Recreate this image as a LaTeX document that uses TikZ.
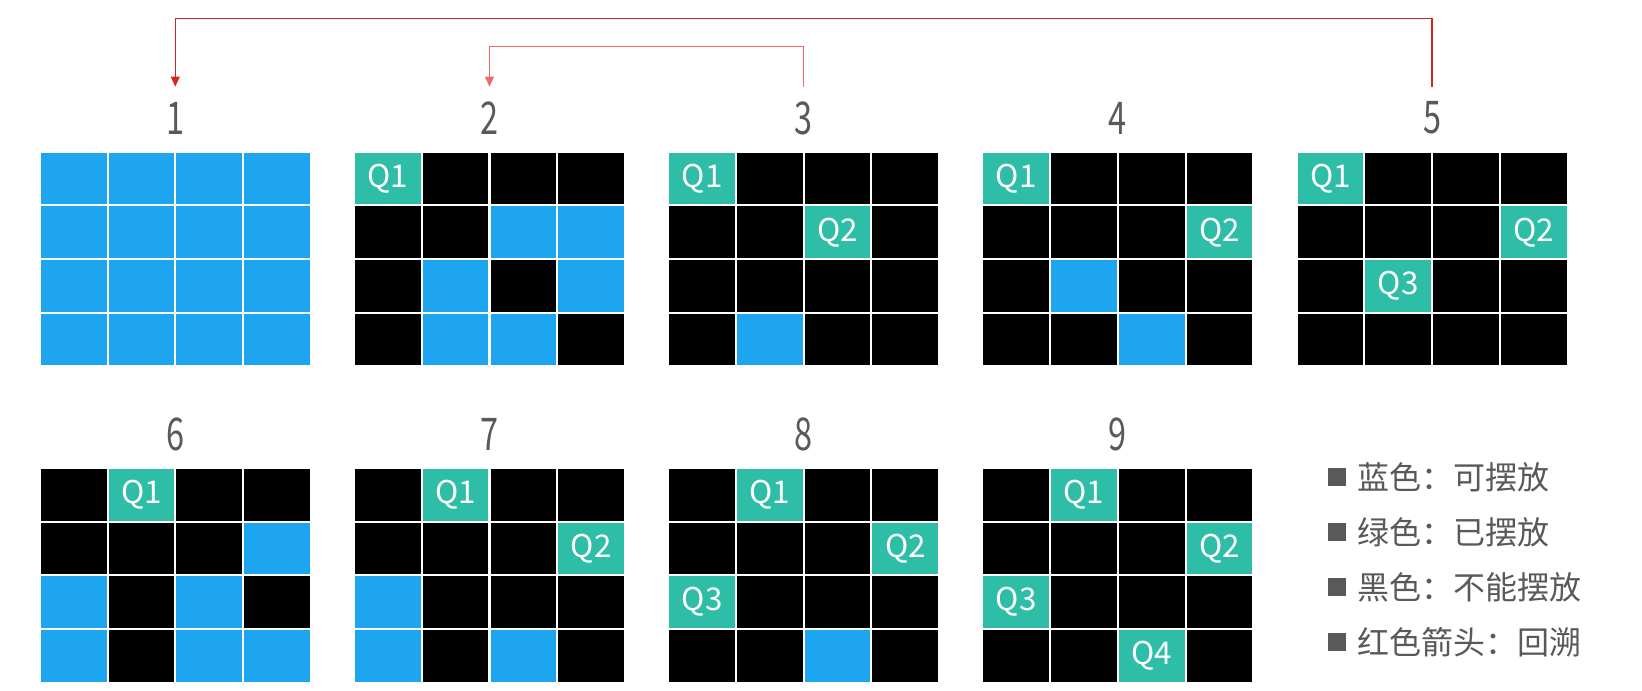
\documentclass[tikz,border=0pt]{standalone}
\usepackage{fontspec}
\setmainfont{Noto Sans CJK SC}
\newfontfamily\numfont[FakeStretch=0.72]{Noto Sans CJK SC}
\usetikzlibrary{arrows.meta}
\definecolor{cblue}{HTML}{1DA5F0}
\definecolor{cgreen}{HTML}{2EBDA6}
\definecolor{cgray}{HTML}{595959}
\definecolor{redA}{HTML}{D9241B}
\definecolor{redB}{HTML}{EE6A62}
\newcommand\drawqgrid[4]{%
  \foreach \t [count=\i from 0] in {#4} {
    \pgfmathtruncatemacro\cc{mod(\i,4)}
    \pgfmathtruncatemacro\rr{div(\i,4)}
    \node (#1-\rr-\cc) at ({#2+(\cc+0.5)*67.75},{#3+(\rr+0.5)*53.67}) [cell, c\t];
  }}
\begin{document}
\begin{tikzpicture}[x=0.75pt,y=-0.75pt,
  cell/.style={draw=none, minimum width=49.3pt, minimum height=38.75pt, inner sep=0pt,
    font=\fontsize{23.5}{23.5}\selectfont, text=white},
  cb/.style={fill=cblue, node contents={}},
  ck/.style={fill=black, node contents={}},
  c1/.style={fill=cgreen, node contents={Q1}},
  c2/.style={fill=cgreen, node contents={Q2}},
  c3/.style={fill=cgreen, node contents={Q3}},
  c4/.style={fill=cgreen, node contents={Q4}},
  num/.style={inner sep=0pt, minimum height=46.5pt, text=cgray,
    font=\numfont\fontsize{33.8}{33.8}\selectfont},
  back/.style={line width=1.1pt, -{Triangle[length=7.5pt,width=6.5pt]}},
  legsq/.style={fill=cgray, minimum size=14pt, inner sep=0pt},
  legtxt/.style={anchor=west, text=cgray, inner sep=0pt,
    font=\fontsize{24}{24}\selectfont}
]
\useasboundingbox (0,0) rectangle (1642,690);

\drawqgrid{g1}{39.8}{151.8}{b,b,b,b,b,b,b,b,b,b,b,b,b,b,b,b}
\drawqgrid{g2}{354}{151.8}{1,k,k,k,k,k,b,b,k,b,k,b,k,b,b,k}
\drawqgrid{g3}{668.2}{151.8}{1,k,k,k,k,k,2,k,k,k,k,k,k,b,k,k}
\drawqgrid{g4}{982.4}{151.8}{1,k,k,k,k,k,k,2,k,b,k,k,k,k,b,k}
\drawqgrid{g5}{1296.6}{151.8}{1,k,k,k,k,k,k,2,k,3,k,k,k,k,k,k}
\drawqgrid{g6}{39.8}{468}{k,1,k,k,k,k,k,b,b,k,b,k,b,k,b,b}
\drawqgrid{g7}{354}{468}{k,1,k,k,k,k,k,2,b,k,k,k,b,k,b,k}
\drawqgrid{g8}{668.2}{468}{k,1,k,k,k,k,k,2,3,k,k,k,k,k,b,k}
\drawqgrid{g9}{982.4}{468}{k,1,k,k,k,k,k,2,3,k,k,k,k,k,4,k}

\node[num] (lab1) at (175.3,118) {1};
\node[num] (lab2) at (489.5,118) {2};
\node[num] (lab3) at (803.7,118) {3};
\node[num] (lab4) at (1117.9,118) {4};
\node[num] (lab5) at (1432.1,118) {5};
\node[num] (lab6) at (175.3,434.6) {6};
\node[num] (lab7) at (489.5,434.6) {7};
\node[num] (lab8) at (803.7,434.6) {8};
\node[num] (lab9) at (1117.9,434.6) {9};

\draw[back, redA] (lab5.north) -- ++(0,-68) -| (lab1.north);
\draw[back, redB] (lab3.north) -- ++(0,-40) -| (lab2.north);

\node[legsq] (sq1) at (1337,477) {};
\node[legtxt] (t1) at (1357,477) {蓝色：可摆放};
\node[legsq] (sq2) at (1337,532) {};
\node[legtxt] (t2) at (1357,532) {绿色：已摆放};
\node[legsq] (sq3) at (1337,587) {};
\node[legtxt] (t3) at (1357,587) {黑色：不能摆放};
\node[legsq] (sq4) at (1337,642) {};
\node[legtxt] (t4) at (1357,642) {红色箭头：回溯};
\end{tikzpicture}
\end{document}
